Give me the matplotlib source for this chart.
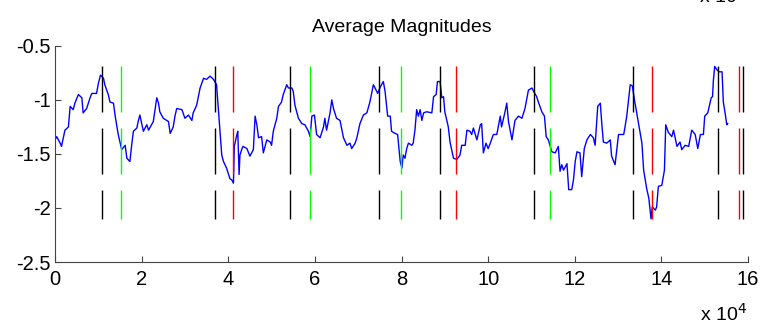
import numpy as np
import matplotlib.pyplot as plt
from matplotlib.ticker import FuncFormatter

plt.rcParams['font.family'] = ['Liberation Sans', 'DejaVu Sans']

# sample index (in units of 10^4) and averaged magnitude
t = [0.00, 0.04, 0.12, 0.15, 0.23, 0.31, 0.35, 0.42, 0.46, 0.54, 0.62, 0.65,
     0.73, 0.81, 0.85, 0.96, 1.00, 1.05, 1.12, 1.15, 1.23, 1.27, 1.35, 1.39,
     1.46, 1.54, 1.62, 1.66, 1.73, 1.77, 1.81, 1.89, 1.92, 1.96, 2.04, 2.12,
     2.16, 2.27, 2.35, 2.39, 2.42, 2.50, 2.62, 2.66, 2.73, 2.77, 2.81, 2.93,
     3.00, 3.08, 3.16, 3.19, 3.27, 3.35, 3.43, 3.50, 3.58, 3.66, 3.73, 3.77,
     3.81, 3.85, 3.89, 3.96, 4.04, 4.08, 4.12, 4.14, 4.20, 4.22, 4.25, 4.27,
     4.31, 4.34, 4.43, 4.50, 4.58, 4.62, 4.66, 4.70, 4.77, 4.81, 4.89, 4.97,
     5.00, 5.04, 5.12, 5.16, 5.23, 5.27, 5.35, 5.39, 5.47, 5.50, 5.54, 5.62,
     5.70, 5.77, 5.85, 5.89, 5.93, 5.99, 6.04, 6.12, 6.20, 6.23, 6.27, 6.35,
     6.39, 6.43, 6.50, 6.58, 6.66, 6.74, 6.81, 6.85, 6.93, 6.97, 7.04, 7.12,
     7.20, 7.27, 7.35, 7.39, 7.45, 7.51, 7.58, 7.62, 7.68, 7.74, 7.77, 7.85,
     7.91, 7.97, 8.01, 8.04, 8.08, 8.12, 8.16, 8.24, 8.27, 8.31, 8.35, 8.39,
     8.43, 8.47, 8.51, 8.58, 8.70, 8.74, 8.80, 8.83, 8.89, 8.93, 8.97, 9.00,
     9.08, 9.12, 9.20, 9.28, 9.35, 9.39, 9.47, 9.51, 9.58, 9.62, 9.66, 9.74,
     9.82, 9.85, 9.89, 9.95, 10.00, 10.05, 10.12, 10.20, 10.28, 10.31, 10.39,
     10.43, 10.47, 10.55, 10.62, 10.70, 10.78, 10.85, 10.93, 11.01, 11.05,
     11.12, 11.16, 11.24, 11.30, 11.34, 11.39, 11.47, 11.55, 11.62, 11.66,
     11.70, 11.74, 11.82, 11.86, 11.93, 11.97, 12.01, 12.05, 12.12, 12.16,
     12.22, 12.28, 12.36, 12.43, 12.47, 12.53, 12.59, 12.62, 12.66, 12.74,
     12.82, 12.85, 12.93, 12.97, 13.01, 13.13, 13.16, 13.20, 13.28, 13.33,
     13.37, 13.43, 13.55, 13.59, 13.66, 13.71, 13.76, 13.79, 13.86, 13.89,
     13.93, 14.01, 14.07, 14.10, 14.16, 14.24, 14.28, 14.36, 14.43, 14.47,
     14.55, 14.63, 14.70, 14.78, 14.84, 14.90, 14.97, 15.00, 15.07, 15.15,
     15.18, 15.20, 15.23, 15.28, 15.33, 15.40, 15.43, 15.47, 15.51, 15.53]
mag = [-1.37, -1.34, -1.40, -1.43, -1.28, -1.25, -1.06, -1.09, -1.03, -0.95,
       -0.98, -1.12, -1.08, -0.98, -0.94, -0.94, -0.85, -0.77, -0.80, -0.86,
       -0.95, -1.02, -1.03, -1.15, -1.32, -1.46, -1.42, -1.54, -1.57, -1.42,
       -1.29, -1.26, -1.20, -1.14, -1.29, -1.23, -1.28, -1.20, -0.98, -1.03,
       -1.11, -1.17, -1.20, -1.31, -1.25, -1.15, -1.08, -1.09, -1.17, -1.14,
       -1.19, -1.12, -1.05, -0.89, -0.80, -0.81, -0.78, -0.81, -0.86, -1.08,
       -1.29, -1.51, -1.57, -1.63, -1.73, -1.74, -1.77, -1.43, -1.32, -1.29,
       -1.69, -1.51, -1.46, -1.43, -1.45, -1.52, -1.46, -1.15, -1.23, -1.35,
       -1.34, -1.49, -1.37, -1.39, -1.42, -1.29, -1.17, -1.06, -1.02, -0.95,
       -0.86, -0.89, -0.89, -0.92, -1.05, -1.17, -1.22, -1.23, -1.29, -1.34,
       -1.15, -1.14, -1.32, -1.35, -1.25, -1.17, -1.28, -1.12, -1.00, -1.08,
       -1.17, -1.19, -1.35, -1.42, -1.40, -1.45, -1.40, -1.35, -1.22, -1.14,
       -1.12, -1.02, -0.86, -0.89, -0.94, -0.88, -0.83, -0.92, -1.15, -1.15,
       -1.29, -1.31, -1.32, -1.57, -1.63, -1.51, -1.54, -1.45, -1.40, -1.42,
       -1.40, -1.28, -1.09, -1.15, -1.09, -1.19, -1.12, -1.11, -1.12, -0.97,
       -0.95, -0.83, -0.83, -0.98, -0.97, -1.11, -1.25, -1.39, -1.54, -1.55,
       -1.51, -1.42, -1.42, -1.28, -1.29, -1.32, -1.26, -1.37, -1.23, -1.22,
       -1.49, -1.40, -1.45, -1.40, -1.32, -1.32, -1.15, -1.25, -1.11, -1.03,
       -1.20, -1.37, -1.19, -1.15, -1.17, -1.08, -0.91, -0.89, -0.92, -0.97,
       -1.02, -1.11, -1.15, -1.34, -1.37, -1.48, -1.49, -1.43, -1.66, -1.60,
       -1.65, -1.59, -1.83, -1.83, -1.74, -1.57, -1.48, -1.49, -1.71, -1.45,
       -1.37, -1.32, -1.35, -1.42, -1.06, -1.03, -1.20, -1.39, -1.40, -1.37,
       -1.52, -1.60, -1.46, -1.32, -1.32, -1.25, -1.15, -0.86, -0.87, -0.98,
       -1.12, -1.40, -1.65, -1.82, -1.91, -2.10, -1.99, -2.02, -1.99, -1.80,
       -1.79, -1.65, -1.23, -1.30, -1.34, -1.28, -1.43, -1.39, -1.46, -1.42,
       -1.43, -1.28, -1.32, -1.45, -1.32, -1.32, -1.15, -1.12, -0.98, -0.97,
       -0.82, -0.69, -0.72, -0.74, -0.74, -1.02, -1.12, -1.23, -1.22]

# event markers (units of 10^4) and their colours
marker_pos = [1.08, 1.52, 3.70, 4.10, 5.43, 5.88, 7.47, 7.99, 8.88, 9.25,
              11.05, 11.42, 13.35, 13.79, 15.30, 15.78, 15.89]
marker_col = ['k', 'lime', 'k', 'red', 'k', 'lime', 'k', 'lime', 'k', 'red',
              'k', 'lime', 'k', 'red', 'k', 'red', 'k']
# three stacked dash bands for each marker
bands = [(-0.69, -1.11), (-1.26, -1.69), (-1.83, -2.10)]

fig = plt.figure(figsize=(7.68, 3.3), dpi=100)
ax = fig.add_axes([0.0716, 0.206, 0.9024, 0.655])

ax.plot(np.array(t) * 1e4, mag, color='blue', linewidth=1.0, zorder=2)

for xp, c in zip(marker_pos, marker_col):
    for y0, y1 in bands:
        ax.vlines(xp * 1e4, y1, y0, colors=c, linewidth=1.0, zorder=3)

ax.set_xlim(0, 16e4)
ax.set_ylim(-2.5, -0.5)
ax.set_xticks(np.arange(0, 16.1, 2) * 1e4)
ax.set_yticks([-2.5, -2, -1.5, -1, -0.5])
ax.xaxis.set_major_formatter(FuncFormatter(lambda v, p: f"{v / 1e4:g}"))
ax.yaxis.set_major_formatter(FuncFormatter(lambda v, p: f"{v:g}"))

for s in ['top', 'right']:
    ax.spines[s].set_visible(False)
for s in ['left', 'bottom']:
    ax.spines[s].set_color('#444444')
ax.tick_params(direction='in', length=4, color='#444444', labelsize=14.5)
ax.tick_params(axis='x', pad=6)
ax.tick_params(axis='y', pad=3)

ax.set_title('Average Magnitudes', fontsize=14, pad=10)

fig.text(0.911, 0.015, 'x 10$^4$', fontsize=14, ha='left', va='bottom')
fig.text(0.911, 0.982, 'x 10', fontsize=14, ha='left', va='bottom')

fig.savefig('out.png', dpi=100)
